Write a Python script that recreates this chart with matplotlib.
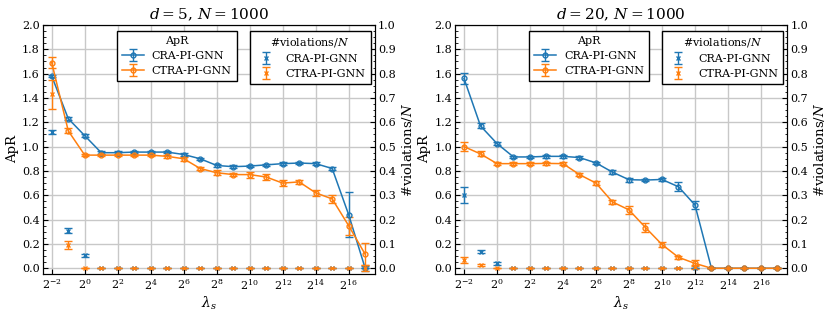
import matplotlib
matplotlib.use("Agg")
import matplotlib.pyplot as plt
import numpy as np
from matplotlib.ticker import (FixedLocator, FuncFormatter, MultipleLocator,
                               AutoMinorLocator, NullLocator)

plt.rcParams['font.family'] = 'serif'
plt.rcParams['font.serif'] = ['DejaVu Serif']
plt.rcParams['mathtext.fontset'] = 'dejavuserif'

# lambda_s = 2^k
exponents = np.arange(-2, 18)
lam = 2.0 ** exponents

# d = 5, N = 1000
apr_cra_d5 = [1.58, 1.23, 1.09, 0.95, 0.95, 0.955, 0.955, 0.955, 0.935, 0.90, 0.845, 0.835,
              0.84, 0.85, 0.86, 0.865, 0.86, 0.82, 0.44, 0.0]
apr_cra_d5_err = [0.01, 0.015, 0.01, 0.01, 0.01, 0.01, 0.01, 0.01, 0.01, 0.01, 0.01, 0.01,
                  0.01, 0.01, 0.01, 0.01, 0.01, 0.015, 0.185, 0.02]
apr_ctra_d5 = [1.69, 1.13, 0.93, 0.93, 0.93, 0.93, 0.93, 0.92, 0.90, 0.82, 0.785, 0.77,
               0.77, 0.75, 0.70, 0.71, 0.62, 0.57, 0.35, 0.115]
apr_ctra_d5_err = [0.045, 0.02, 0.01, 0.01, 0.01, 0.01, 0.01, 0.01, 0.015, 0.015, 0.02, 0.01,
                   0.025, 0.025, 0.025, 0.015, 0.025, 0.035, 0.075, 0.09]
vio_cra_d5 = [0.56, 0.155, 0.053] + [0.0] * 17
vio_cra_d5_err = [0.008, 0.012, 0.005] + [0.0] * 17
vio_ctra_d5 = [0.715, 0.095] + [0.0] * 18
vio_ctra_d5_err = [0.06, 0.015] + [0.0] * 17 + [0.012]

# d = 20, N = 1000
apr_cra_d20 = [1.56, 1.17, 1.025, 0.915, 0.915, 0.92, 0.92, 0.91, 0.866, 0.79, 0.728, 0.725,
               0.73, 0.67, 0.52, 0.0, 0.0, 0.0, 0.0, 0.0]
apr_cra_d20_err = [0.045, 0.02, 0.015, 0.01, 0.01, 0.01, 0.01, 0.01, 0.01, 0.015, 0.015, 0.01,
                   0.01, 0.035, 0.035, 0.0, 0.0, 0.0, 0.0, 0.0]
apr_ctra_d20 = [1.0, 0.94, 0.86, 0.86, 0.86, 0.862, 0.86, 0.77, 0.70, 0.545, 0.48, 0.335,
                0.195, 0.09, 0.04, 0.0, 0.0, 0.0, 0.0, 0.0]
apr_ctra_d20_err = [0.04, 0.02, 0.01, 0.01, 0.01, 0.01, 0.01, 0.01, 0.015, 0.02, 0.03, 0.035,
                    0.02, 0.01, 0.025, 0.0, 0.0, 0.0, 0.0, 0.0]
vio_cra_d20 = [0.30, 0.068, 0.02] + [0.0] * 17
vio_cra_d20_err = [0.033, 0.005, 0.005] + [0.0] * 17
vio_ctra_d20 = [0.033, 0.013] + [0.0] * 12 + [0.005] + [0.0] * 5
vio_ctra_d20_err = [0.012, 0.005] + [0.0] * 12 + [0.007] + [0.0] * 5

panels = [
    ("$d=5,\\,N=1000$", apr_cra_d5, apr_cra_d5_err, apr_ctra_d5, apr_ctra_d5_err,
     vio_cra_d5, vio_cra_d5_err, vio_ctra_d5, vio_ctra_d5_err),
    ("$d=20,\\,N=1000$", apr_cra_d20, apr_cra_d20_err, apr_ctra_d20, apr_ctra_d20_err,
     vio_cra_d20, vio_cra_d20_err, vio_ctra_d20, vio_ctra_d20_err),
]

blue = '#1f77b4'
orange = '#ff7f0e'

fig, axes = plt.subplots(1, 2, figsize=(8.3, 3.16), dpi=100)
fig.subplots_adjust(left=0.052, right=0.948, top=0.921, bottom=0.133, wspace=0.244)

for ax, (title, a1, e1, a2, e2, v1, ve1, v2, ve2) in zip(axes, panels):
    ax2 = ax.twinx()
    ax.set_xscale('log', base=2)

    h1 = ax.errorbar(lam, a1, yerr=e1, color=blue, marker='o', ms=3.5, mfc='none',
                     lw=1.1, capsize=3, elinewidth=1, label='CRA-PI-GNN')
    h2 = ax.errorbar(lam, a2, yerr=e2, color=orange, marker='o', ms=3.5, mfc='none',
                     lw=1.1, capsize=3, elinewidth=1, label='CTRA-PI-GNN')
    g1 = ax2.errorbar(lam, v1, yerr=ve1, color=blue, marker='x', ms=3.5, ls='none',
                      capsize=3, elinewidth=1, label='CRA-PI-GNN')
    g2 = ax2.errorbar(lam, v2, yerr=ve2, color=orange, marker='x', ms=3.5, ls='none',
                      capsize=3, elinewidth=1, label='CTRA-PI-GNN')

    ax.set_xlim(2 ** -2.52, 2 ** 17.57)
    ax.set_ylim(-0.047, 2.0)
    ax2.set_ylim(-0.0235, 1.0)
    ax.xaxis.set_major_locator(FixedLocator(2.0 ** np.arange(-2, 18, 2)))
    ax.xaxis.set_minor_locator(NullLocator())
    ax.xaxis.set_major_formatter(FuncFormatter(lambda v, p: '$2^{%d}$' % round(np.log2(v))))
    ax.yaxis.set_major_locator(MultipleLocator(0.2))
    ax.yaxis.set_minor_locator(AutoMinorLocator(4))
    ax2.yaxis.set_major_locator(MultipleLocator(0.1))
    ax2.yaxis.set_minor_locator(AutoMinorLocator(4))

    ax.grid(True, which='major', color='#c8c8c8', lw=1.0)
    ax.set_axisbelow(True)
    for a in (ax, ax2):
        a.tick_params(which='both', direction='in', labelsize=8, pad=2.5)
        a.tick_params(which='major', length=3.5)
        a.tick_params(which='minor', length=1.8)
    ax.tick_params(axis='y', right=False)
    ax.tick_params(axis='x', which='both', top=False)

    ax.set_title(title, fontsize=11, pad=4)
    ax.set_xlabel('$\\lambda_s$', fontsize=10, labelpad=2)
    ax.set_ylabel('ApR', fontsize=9.5, labelpad=2)
    ax2.set_ylabel('#violations/$N$', fontsize=9.5, labelpad=3)

    leg1 = ax2.legend([h1, h2], ['CRA-PI-GNN', 'CTRA-PI-GNN'], title='ApR',
                      loc='upper left', bbox_to_anchor=(0.215, 0.985), fontsize=8,
                      title_fontsize=8, fancybox=False, edgecolor='black', framealpha=1,
                      borderaxespad=0.2, handletextpad=0.7, borderpad=0.45,
                      labelspacing=0.45)
    leg1.get_frame().set_linewidth(1.0)
    ax2.add_artist(leg1)
    leg2 = ax2.legend([g1, g2], ['CRA-PI-GNN', 'CTRA-PI-GNN'], title='#violations/$N$',
                      loc='upper right', bbox_to_anchor=(0.995, 0.985), fontsize=8,
                      title_fontsize=8, fancybox=False, edgecolor='black', framealpha=1,
                      borderaxespad=0.2, handletextpad=0.8, borderpad=0.45,
                      labelspacing=0.45)
    leg2.get_frame().set_linewidth(1.0)

fig.savefig('out.png', dpi=100)
